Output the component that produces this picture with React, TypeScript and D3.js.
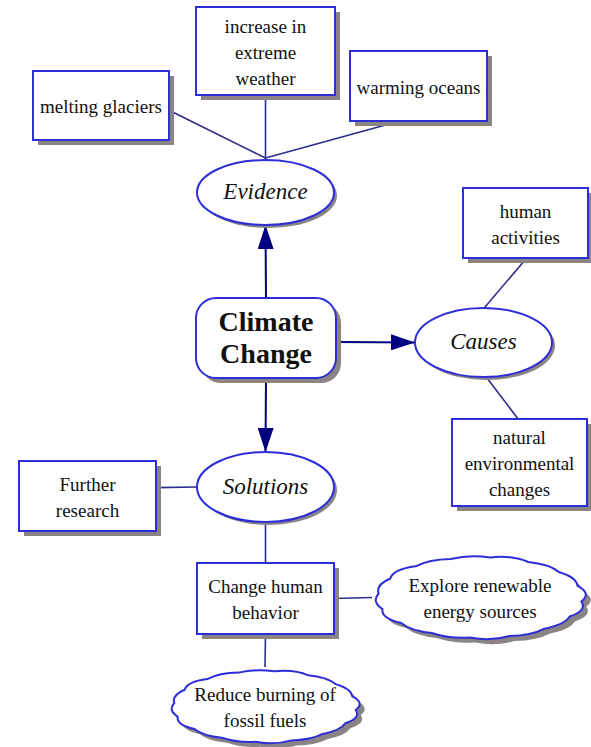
import * as d3 from 'd3';

// concept map content
const nodeIds = [
  'climate', 'evidence', 'causes', 'solutions',
  'glaciers', 'weather', 'oceans',
  'human', 'natural',
  'research', 'behavior', 'renewable', 'fossil',
];
const nodeLabels = [
  ['Climate', 'Change'],
  ['Evidence'],
  ['Causes'],
  ['Solutions'],
  ['melting glaciers'],
  ['increase in', 'extreme', 'weather'],
  ['warming oceans'],
  ['human', 'activities'],
  ['natural', 'environmental', 'changes'],
  ['Further', 'research'],
  ['Change human', 'behavior'],
  ['Explore renewable', 'energy sources'],
  ['Reduce burning of', 'fossil fuels'],
];
const nodeKinds = [
  'topic', 'branch', 'branch', 'branch',
  'box', 'box', 'box',
  'box', 'box',
  'box', 'box', 'cloud', 'cloud',
];

// links: from, to, arrow?
const linkFrom = ['glaciers', 'weather', 'oceans', 'climate', 'climate', 'climate', 'human', 'causes', 'research', 'solutions', 'behavior', 'behavior'];
const linkTo = ['evidence', 'evidence', 'evidence', 'evidence', 'causes', 'solutions', 'causes', 'natural', 'solutions', 'behavior', 'renewable', 'fossil'];
const linkArrow = [false, false, false, true, true, true, false, false, false, false, false, false];

// layout (pixels) kept apart from the content
type Box = { x: number; y: number; w: number; h: number };
const layout: Record<string, Box> = {
  climate: { x: 196, y: 298, w: 140, h: 80 },
  evidence: { x: 197, y: 160, w: 137, h: 65 },
  causes: { x: 415, y: 308, w: 137, h: 69 },
  solutions: { x: 197, y: 452, w: 137, h: 70 },
  glaciers: { x: 33, y: 71, w: 136, h: 69 },
  weather: { x: 196, y: 7, w: 139, h: 88 },
  oceans: { x: 350, y: 51, w: 137, h: 70 },
  human: { x: 463, y: 188, w: 125, h: 70 },
  natural: { x: 452, y: 419, w: 135, h: 87 },
  research: { x: 19, y: 461, w: 137, h: 70 },
  behavior: { x: 197, y: 563, w: 137, h: 71 },
  renewable: { x: 372, y: 553, w: 216, h: 89 },
  fossil: { x: 168, y: 667, w: 194, h: 79 },
};
// attachment points as fractions of the node box
const anchorFrom: [number, number][] = [[1, 0.57], [0.5, 1], [0.365, 1], [0.5, 0], [1, 0.55], [0.5, 1], [0.51, 1], [0.52, 1], [1, 0.38], [0.5, 1], [1, 0.5], [0.5, 1]];
const anchorTo: [number, number][] = [[0.5, -0.03], [0.5, 0], [0.5, -0.03], [0.5, 1], [0, 0.5], [0.5, 0], [0.5, 0.01], [0.49, 0], [0, 0.5], [0.5, 0], [0, 0.5], [0.5, 0]];

const serif = '"Liberation Serif"';
const shadow = '#8a8484';
const blue = '#2e2ed8';

const cloudPath = (b: Box, n: number) => {
  const cx = b.x + b.w / 2;
  const cy = b.y + b.h / 2;
  const rx = b.w / 2 - 3;
  const ry = b.h / 2 - 3;
  const p = d3.path();
  const pt = (a: number, k: number) => [cx + Math.cos(a) * rx * k, cy + Math.sin(a) * ry * k];
  for (let i = 0; i < n; i++) {
    const a0 = (i / n) * Math.PI * 2 + 0.1;
    const a1 = ((i + 1) / n) * Math.PI * 2 + 0.1;
    const [x0, y0] = pt(a0, 0.97);
    const [x1, y1] = pt(a1, 0.97);
    const [mx, my] = pt((a0 + a1) / 2, i % 3 === 0 ? 1.07 : 1.04);
    if (i === 0) p.moveTo(x0, y0);
    p.quadraticCurveTo(mx, my, x1, y1);
  }
  p.closePath();
  return p.toString();
};

const at = (id: string, a: [number, number]) => {
  const b = layout[id];
  return [b.x + b.w * a[0], b.y + b.h * a[1]];
};

const Shape = ({ kind, b, o, fill, stroke }: { kind: string; b: Box; o: number; fill: string; stroke: string }) => {
  const sw = stroke === 'none' ? 0 : 2;
  if (kind === 'box' || kind === 'topic') {
    const r = kind === 'topic' ? 20 : 0;
    return <rect x={b.x + o} y={b.y + o} width={b.w} height={b.h} rx={r} ry={r} fill={fill} stroke={stroke} strokeWidth={sw} />;
  }
  if (kind === 'branch') {
    const oo = o ? 3 : 0;
    return <ellipse cx={b.x + b.w / 2 + oo} cy={b.y + b.h / 2 + oo} rx={b.w / 2} ry={b.h / 2} fill={fill} stroke={stroke} strokeWidth={sw} />;
  }
  return <path d={cloudPath(b, 16)} transform={`translate(${o},${o})`} fill={fill} stroke={stroke} strokeWidth={sw} />;
};

const App = () => {
  const nodes = nodeIds.map((id, i) => ({ id, label: nodeLabels[i], kind: nodeKinds[i], b: layout[id] }));
  const links = linkFrom.map((f, i) => ({ s: at(f, anchorFrom[i]), t: at(linkTo[i], anchorTo[i]), arrow: linkArrow[i] }));

  return (
    <svg width={591} height={747} style={{ position: 'absolute', left: 0, top: 0, background: 'white' }}>
      <defs>
        <marker id="arrow" viewBox="0 0 24 16" refX={24} refY={8} markerWidth={12} markerHeight={8} markerUnits="strokeWidth" orient="auto">
          <path d="M0,0 L24,8 L0,16 Z" fill="#000080" />
        </marker>
      </defs>
      <g>
        {links.map((d, i) => (
          <line
            key={i}
            x1={d.s[0]} y1={d.s[1]} x2={d.t[0]} y2={d.t[1]}
            stroke={d.arrow ? '#000080' : '#2c2c8c'}
            strokeWidth={d.arrow ? 2 : 1.6}
            markerEnd={d.arrow ? 'url(#arrow)' : undefined}
          />
        ))}
      </g>
      {nodes.map((d) => {
        const size = d.kind === 'topic' ? 28 : d.kind === 'branch' ? 23 : 19;
        const lh = d.kind === 'topic' ? 32 : 26;
        const dy = d.kind === 'topic' ? '0.33em' : d.kind === 'branch' ? '0.3em' : '0.42em';
        const cx = d.b.x + d.b.w / 2;
        const cy = d.b.y + d.b.h / 2;
        const n = d.label.length;
        return (
          <g key={d.id}>
            <Shape kind={d.kind} b={d.b} o={5} fill={shadow} stroke="none" />
            <Shape kind={d.kind} b={d.b} o={0} fill="white" stroke={blue} />
            {d.label.map((t, i) => (
              <text
                key={i}
                x={cx}
                y={cy + (i - (n - 1) / 2) * lh}
                dy={dy}
                textAnchor="middle"
                fontSize={size}
                fontWeight={d.kind === 'topic' ? 'bold' : 'normal'}
                fontStyle={d.kind === 'branch' ? 'italic' : 'normal'}
                fill="#111"
                style={{ fontFamily: serif }}
              >
                {t}
              </text>
            ))}
          </g>
        );
      })}
    </svg>
  );
};

export default App;
